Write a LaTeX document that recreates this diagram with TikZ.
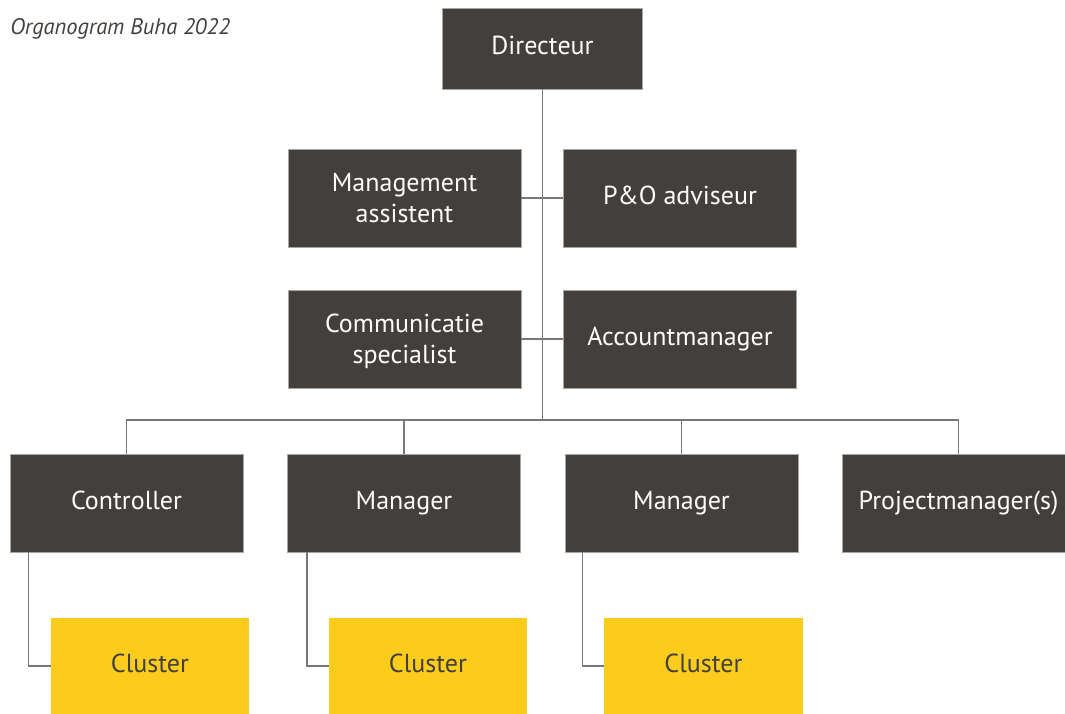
\documentclass[tikz,border=0pt]{standalone}
\usepackage{fontspec}
\setmainfont{PT Sans}
\usepackage{tikz}
\usetikzlibrary{positioning,calc}
\definecolor{boxgrey}{HTML}{433F3C}
\definecolor{clusteryellow}{HTML}{FCCC1C}
\definecolor{linegrey}{HTML}{7A7776}

\begin{document}
\begin{tikzpicture}[x=0.025cm,y=-0.025cm,
    role/.style={fill=boxgrey, draw=gray!70, line width=0.6pt, text=white,
        minimum width=5.825cm, minimum height=2.45cm, inner sep=0pt,
        align=center, font=\fontsize{18.5}{22}\selectfont},
    oneline/.style={text height=0.9em, text depth=0pt},
    toprole/.style={role, oneline, minimum width=5cm, minimum height=2.025cm},
    cluster/.style={fill=clusteryellow, text=boxgrey, inner sep=0pt, oneline,
        minimum width=4.95cm, minimum height=2.4cm,
        font=\fontsize{18.5}{22}\selectfont},
    link/.style={draw=linegrey, line width=1pt}]
    \useasboundingbox (0,0) rectangle (1065,713);
    \clip (0,0) rectangle (1065,713);
    \node[anchor=base west, inner sep=0pt, text=boxgrey,
          font=\itshape\fontsize{16}{18}\selectfont] (title) at (10,34) {Organogram Buha 2022};
    % top and staff positions
    \node[toprole] (dir) at (542.5,48.5) {Directeur};
    \node[role] (mgmt) at (404.5,198) {Management\\assistent};
    \node[role, oneline] (po) at (680,198) {P\&O adviseur};
    \node[role, text depth=0pt] (comm) at (404.5,339) {Communicatie\\specialist};
    \node[role, oneline] (acct) at (680,339) {Accountmanager};
    % line positions
    \node[role, oneline] (ctrl) at (126.5,503) {Controller};
    \node[role, oneline] (mgrA) at (404,503) {Manager};
    \node[role, oneline] (mgrB) at (681.5,503) {Manager};
    \node[role, oneline] (pm) at (958.5,503) {Projectmanager(s)};
    % clusters
    \node[cluster] (clA) at (150,666) {Cluster};
    \node[cluster] (clB) at (428,666) {Cluster};
    \node[cluster] (clC) at (703.5,666) {Cluster};
    % connectors
    \coordinate (bus) at (542.5,420);
    \draw[link] (dir.south) -- (bus);
    \draw[link] (mgmt.east) -- (po.west);
    \draw[link] (comm.east) -- (acct.west);
    \draw[link] (ctrl.north) |- (bus) -| (pm.north);
    \draw[link] (mgrA.north) -- (mgrA.north |- bus);
    \draw[link] (mgrB.north) -- (mgrB.north |- bus);
    \draw[link] ([xshift=0.475cm]ctrl.south west) |- (clA.west);
    \draw[link] ([xshift=0.5cm]mgrA.south west) |- (clB.west);
    \draw[link] ([xshift=0.45cm]mgrB.south west) |- (clC.west);
\end{tikzpicture}
\end{document}
